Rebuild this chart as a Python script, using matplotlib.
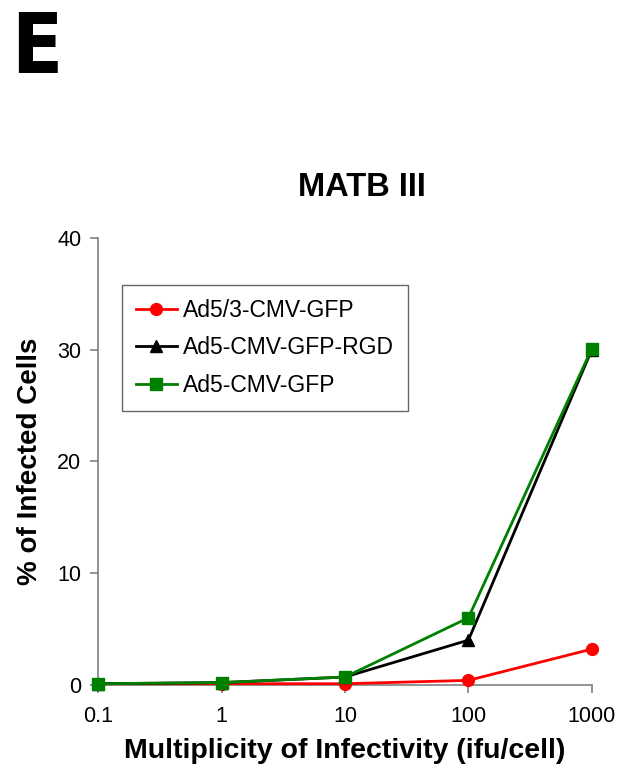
import matplotlib.pyplot as plt

plt.rcParams['font.family'] = ['Liberation Sans', 'DejaVu Sans']

# data
moi_labels = ['0.1', '1', '10', '100', '1000']
ad53_cmv_gfp = [0.1, 0.1, 0.1, 0.4, 3.2]
ad5_cmv_gfp_rgd = [0.1, 0.2, 0.7, 4.0, 30.0]
ad5_cmv_gfp = [0.1, 0.2, 0.7, 6.0, 30.1]

fig = plt.figure(figsize=(6.21, 7.80), dpi=100)
ax = fig.add_axes([0.158, 0.122, 0.795, 0.573])

x = list(range(len(moi_labels)))
ax.plot(x, ad53_cmv_gfp, color='#ff0000', marker='o', markersize=8.5, lw=2,
        label='Ad5/3-CMV-GFP', clip_on=False, zorder=3)
ax.plot(x, ad5_cmv_gfp_rgd, color='black', marker='^', markersize=8.5, lw=2,
        label='Ad5-CMV-GFP-RGD', clip_on=False, zorder=3)
ax.plot(x, ad5_cmv_gfp, color='#008000', marker='s', markersize=8.5, lw=2,
        label='Ad5-CMV-GFP', clip_on=False, zorder=4)

ax.set_xlim(0, 4)
ax.set_ylim(0, 40)
ax.set_xticks(x)
ax.set_xticklabels(moi_labels)
ax.set_yticks([0, 10, 20, 30, 40])

for s in ['top', 'right']:
    ax.spines[s].set_visible(False)
for s in ['left', 'bottom']:
    ax.spines[s].set_color('#808080')
    ax.spines[s].set_linewidth(1.2)
ax.tick_params(axis='both', colors='#808080', labelcolor='black', labelsize=15.5,
               length=6, width=1.2)
ax.tick_params(axis='x', pad=9)
ax.tick_params(axis='y', pad=6)

ax.set_xlabel('Multiplicity of Infectivity (ifu/cell)', fontsize=20.5, fontweight='bold', labelpad=8)
ax.set_ylabel('% of Infected Cells', fontsize=20, fontweight='bold', labelpad=10)
ax.set_title('MATB III', fontsize=23.5, fontweight='bold', pad=30, x=0.534)

leg = ax.legend(loc='upper left', bbox_to_anchor=(0.0486, 0.895), borderaxespad=0,
                fontsize=16.5, frameon=True, fancybox=False, borderpad=0.6,
                labelspacing=0.65, handlelength=1.8, handletextpad=0.25)
leg.get_frame().set_edgecolor('#404040')
leg.get_frame().set_linewidth(1.0)

fig.text(0.018, 0.988, 'E', fontsize=60, fontweight='bold', fontstretch='condensed',
         va='top', ha='left', family='DejaVu Sans')

fig.savefig('out.png', dpi=100)
